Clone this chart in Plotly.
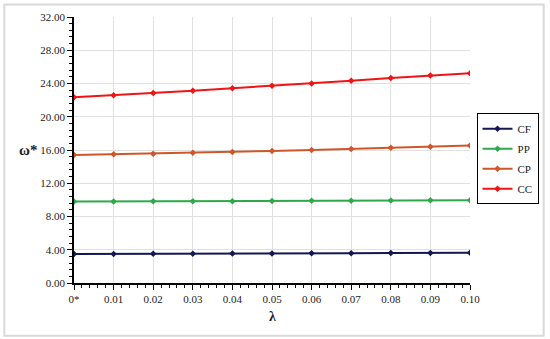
import plotly.graph_objects as go

lam = [0, 0.01, 0.02, 0.03, 0.04, 0.05, 0.06, 0.07, 0.08, 0.09, 0.10]
lam_labels = ['0*', '0.01', '0.02', '0.03', '0.04', '0.05', '0.06', '0.07', '0.08', '0.09', '0.10']

cf = [3.50, 3.50, 3.51, 3.53, 3.54, 3.55, 3.58, 3.59, 3.61, 3.62, 3.64]
pp = [9.80, 9.81, 9.82, 9.83, 9.84, 9.85, 9.88, 9.90, 9.92, 9.94, 9.96]
cp = [15.40, 15.48, 15.56, 15.66, 15.76, 15.88, 16.00, 16.12, 16.26, 16.40, 16.55]
cc = [22.36, 22.60, 22.86, 23.14, 23.44, 23.72, 24.00, 24.32, 24.66, 24.96, 25.24]

y_ticks = [0, 4, 8, 12, 16, 20, 24, 28, 32]
y_labels = ['%.2f' % v for v in y_ticks]

series = [('CF', cf, '#141852'), ('PP', pp, '#2fa84a'), ('CP', cp, '#d0562a'), ('CC', cc, '#f01414')]

FONT = 'Liberation Serif'

fig = go.Figure()
for name, vals, col in series:
    fig.add_trace(go.Scatter(x=lam, y=vals, name=name, legendgroup=name,
                             mode='lines+markers',
                             line=dict(color=col, width=2),
                             marker=dict(symbol='diamond', size=5, color=col)))

fig.update_layout(
    width=550, height=339,
    margin=dict(l=74, r=78, t=17, b=56),
    paper_bgcolor='white', plot_bgcolor='white',
    font=dict(family=FONT, size=11, color='#222'),
    showlegend=True,
    legend=dict(x=1.173, y=0.6386, xanchor='right', yanchor='top',
                bordercolor='black', borderwidth=1, bgcolor='white',
                font=dict(family=FONT, size=11, color='#222'),
                tracegroupgap=1, itemwidth=30),
    xaxis=dict(range=[0, 0.10], tickvals=lam, ticktext=lam_labels,
               showgrid=True, gridcolor='#e0e0e0', gridwidth=1,
               showline=True, linecolor='black', linewidth=1.5,
               ticks='outside', ticklen=5, tickcolor='black',
               minor=dict(dtick=0.002, tick0=0, ticks='outside', ticklen=3,
                          tickcolor='black', showgrid=False),
               zeroline=False, tickfont=dict(family=FONT, size=11)),
    yaxis=dict(range=[0, 32], tickvals=y_ticks, ticktext=y_labels,
               showgrid=True, gridcolor='#e0e0e0', gridwidth=1,
               showline=True, linecolor='black', linewidth=1.5,
               ticks='outside', ticklen=5, tickcolor='black',
               minor=dict(dtick=0.8, tick0=0, ticks='outside', ticklen=3,
                          tickcolor='black', showgrid=False),
               zeroline=False, tickfont=dict(family=FONT, size=11)),
    annotations=[
        dict(text='<b>ω*</b>', x=-0.1156, y=0.5, xref='paper', yref='paper',
             xanchor='center', yanchor='middle',
             showarrow=False, font=dict(family=FONT, size=15, color='#222')),
        dict(text='<b>λ</b>', x=0.5, y=-0.125, xref='paper', yref='paper',
             xanchor='center', yanchor='middle',
             showarrow=False, font=dict(family=FONT, size=14, color='#222')),
    ],
    shapes=[dict(type='rect', xref='paper', yref='paper',
                 x0=-0.176, x1=1.186, y0=-0.198, y1=1.047,
                 line=dict(color='#d9d9d9', width=2))],
)

fig.write_html('out.html', config={'displayModeBar': False},
               post_script="document.body.style.margin='0';")
